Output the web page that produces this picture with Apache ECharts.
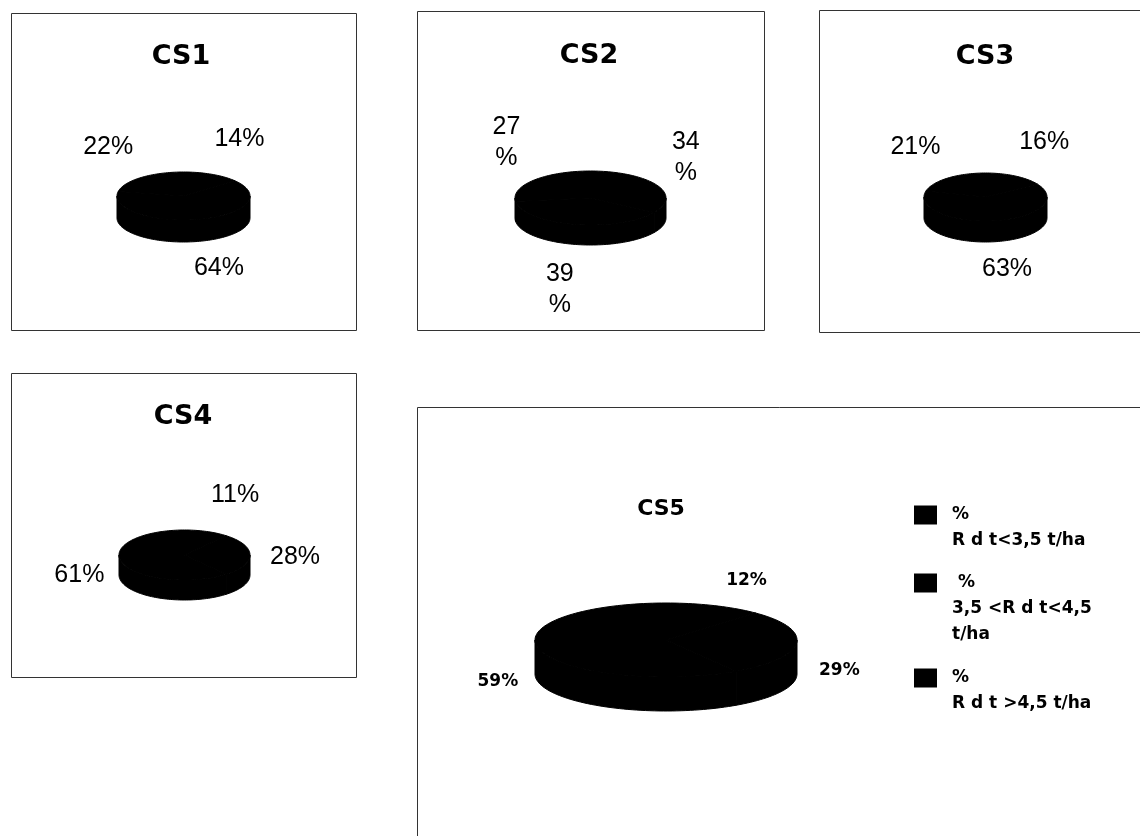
<!DOCTYPE html>
<html>
<head>
<meta charset="utf-8">
<script src="https://cdn.jsdelivr.net/npm/echarts@6/dist/echarts.min.js"></script>
<style>
  html, body { margin: 0; padding: 0; background: #fff; }
  #chart { width: 1140px; height: 836px; }
</style>
</head>
<body>
<div id="chart"></div>
<script>
// Yield classes per site (shares in %, listed clockwise from 12 o'clock)
const panels = ['CS1', 'CS2', 'CS3', 'CS4', 'CS5'];
const classNames = ['Rdt<3,5 t/ha', '3,5<Rdt<4,5 t/ha', 'Rdt>4,5 t/ha'];
const legendLabels = ['%\nR d t<3,5 t/ha', ' %\n3,5 <R d t<4,5\nt/ha', '%\nR d t >4,5 t/ha'];
const lowYield  = [14, 34, 16, 11, 12];
const midYield  = [64, 39, 63, 28, 29];
const highYield = [22, 27, 21, 61, 59];
const shares = [lowYield, midYield, highYield];

// Panel geometry: frame, title anchor, 3-D disc (top-face centre, radii, thickness) and label spacing
const layout = [
  { box: [11.5, 13.5, 345, 317], title: [181, 57], titleFont: 'bold 27px "DejaVu Sans"',
    cx: 183.5, cy: 196, rx: 66.5, ry: 24, depth: 22, labelFont: '25px "Liberation Sans"', lineHeight: 26,
    wrap: false, gapX: 17, gapTop: 26, wall: null },
  { box: [417.5, 11.5, 347, 319], title: [589, 56], titleFont: 'bold 27px "DejaVu Sans"',
    cx: 590.5, cy: 198, rx: 75.5, ry: 27, depth: 20, labelFont: '25px "Liberation Sans"', lineHeight: 31,
    wrap: true, gapX: 17, gapTop: 26, wall: null },
  { box: [819.5, 10.5, 340, 322], title: [985, 57], titleFont: 'bold 27px "DejaVu Sans"',
    cx: 985.5, cy: 197, rx: 61.5, ry: 24, depth: 21, labelFont: '25px "Liberation Sans"', lineHeight: 26,
    wrap: false, gapX: 17, gapTop: 26, wall: null },
  { box: [11.5, 373.5, 345, 304], title: [183, 417], titleFont: 'bold 27px "DejaVu Sans"',
    cx: 184.5, cy: 555, rx: 65.5, ry: 25, depth: 20, labelFont: '25px "Liberation Sans"', lineHeight: 26,
    wrap: false, gapX: 20, gapTop: 26, wall: 0.1 },
  { box: [417.5, 407.5, 760, 450], title: [661, 509], titleFont: 'bold 22px "DejaVu Sans"',
    cx: 666, cy: 640, rx: 131, ry: 37, depth: 34, labelFont: 'bold 17px "DejaVu Sans"', lineHeight: 20,
    wrap: false, gapX: 26, gapTop: 17, wall: 0.72 }
];

function sliceData(k) {
  return panels.map(function (_, p) {
    let start = 0;
    for (let j = 0; j < k; j++) start += shares[j][p];
    return [p, start, shares[k][p]];
  });
}

function arcPoints(L, t0, t1, dy) {
  const n = Math.max(2, Math.ceil((t1 - t0) / (Math.PI / 90)));
  const pts = [];
  for (let i = 0; i <= n; i++) {
    const t = t0 + (t1 - t0) * i / n;
    pts.push([L.cx + L.rx * Math.sin(t), L.cy - L.ry * Math.cos(t) + dy]);
  }
  return pts;
}

function fontPx(font) { return parseFloat(font.match(/(\d+)px/)[1]); }

function renderSlice(params, api) {
  const p = api.value(0), start = api.value(1), val = api.value(2);
  const L = layout[p];
  const t0 = start / 100 * 2 * Math.PI;
  const t1 = (start + val) / 100 * 2 * Math.PI;
  const solid = { fill: '#000', stroke: '#000', lineWidth: 1 };
  const children = [];

  // front wall of the disc (visible between 3 and 9 o'clock)
  const s = Math.max(t0, Math.PI / 2), e = Math.min(t1, 1.5 * Math.PI);
  if (s < e) {
    const upper = arcPoints(L, s, e, 0);
    const lower = arcPoints(L, s, e, L.depth).reverse();
    children.push({ type: 'polygon', shape: { points: upper.concat(lower) }, style: solid });
  }
  // top face sector
  children.push({ type: 'polygon', shape: { points: [[L.cx, L.cy]].concat(arcPoints(L, t0, t1, 0)) }, style: solid });

  // value label outside the slice
  const mid = (t0 + t1) / 2, sn = Math.sin(mid), cs = Math.cos(mid);
  const fs = fontPx(L.labelFont);
  const digitsW = String(val).length * 0.556 * fs, pctW = 0.889 * fs;
  const halfW = (L.wrap ? Math.max(digitsW, pctW) : digitsW + pctW) / 2;
  const halfH = (L.wrap ? 2 : 1) * L.lineHeight / 2;
  const x = L.cx + sn * (L.rx + halfW) + Math.sign(sn) * L.gapX * Math.min(1, 3 * Math.abs(sn));
  let y;
  if (cs > 0.001) {
    y = L.cy - cs * (L.ry + L.gapTop + halfH);
  } else {
    const wall = L.wall === null ? Math.min(1, 0.3 + 1.1 * Math.abs(cs)) : L.wall;
    y = L.cy - cs * (L.ry + 15 + halfH) + L.depth * wall;
  }
  children.push({
    type: 'text',
    style: {
      text: L.wrap ? val + '\n%' : val + '%',
      x: x, y: y, align: 'center', verticalAlign: 'middle',
      font: L.labelFont, lineHeight: L.lineHeight, fill: '#000'
    }
  });
  return { type: 'group', children: children };
}

const series = classNames.map(function (name, k) {
  return {
    type: 'custom',
    name: name,
    coordinateSystem: 'none',
    dimensions: ['panel', 'start', 'share'],
    data: sliceData(k),
    renderItem: renderSlice,
    itemStyle: { color: '#000' },
    silent: true,
    animation: false
  };
});

// Legend: one block per class, square aligned with the first text line
const legendTops = [476, 518, 639];
const legends = classNames.map(function (name, k) {
  const lines = legendLabels[k].split('\n').length;
  return {
    data: [name],
    left: 914,
    top: legendTops[k],
    padding: 0,
    orient: 'vertical',
    icon: 'rect',
    itemWidth: 23,
    itemHeight: 19,
    selectedMode: false,
    formatter: function () { return '\n'.repeat(lines - 1) + legendLabels[k]; },
    textStyle: {
      fontFamily: 'DejaVu Sans', fontWeight: 'bold', fontSize: 17,
      lineHeight: 26, color: '#000', padding: [0, 0, 0, 10]
    }
  };
});

const graphics = [];
layout.forEach(function (L, p) {
  graphics.push({
    type: 'rect', silent: true,
    shape: { x: L.box[0], y: L.box[1], width: L.box[2], height: L.box[3] },
    style: { fill: 'none', stroke: '#333', lineWidth: 1 }
  });
  graphics.push({
    type: 'text', silent: true, x: L.title[0], y: L.title[1],
    style: { text: panels[p], font: L.titleFont, fill: '#000', align: 'center', verticalAlign: 'middle' }
  });
});

const chart = echarts.init(document.getElementById('chart'), null, { renderer: 'canvas', width: 1140, height: 836 });
chart.setOption({
  backgroundColor: '#fff',
  animation: false,
  legend: legends,
  graphic: graphics,
  series: series
});
</script>
</body>
</html>
